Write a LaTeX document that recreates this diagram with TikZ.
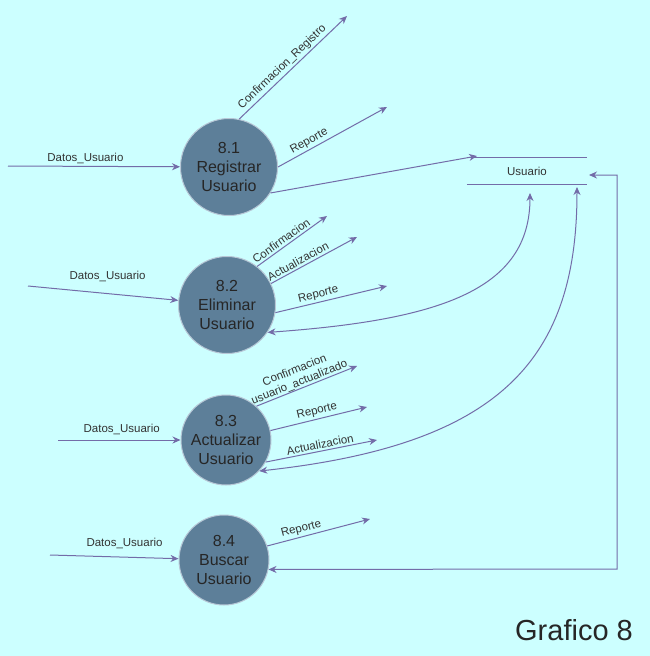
\documentclass[tikz,border=0pt]{standalone}
\usepackage{fontspec}
\setmainfont{Liberation Sans}
\usetikzlibrary{arrows.meta}

\definecolor{bgcol}{HTML}{CCFFFF}
\definecolor{proccol}{HTML}{5D7F99}
\definecolor{edgecol}{HTML}{B7C7D6}
\definecolor{flowcol}{HTML}{736CA8}
\definecolor{txtcol}{HTML}{333333}

\begin{document}
\begin{tikzpicture}[x=1pt,y=-1pt]
	% size of each process
	\def\sz{97pt}
	\def\szsmall{90pt}
	% style definition
	\tikzstyle{proc} = [circle, draw=edgecol, line width=1pt, fill=proccol, minimum size=\sz, inner sep=0pt, align=center, text=black!85, font=\fontsize{16}{19}\selectfont];
	\tikzstyle{flow} = [draw=flowcol, line width=1pt, -{Stealth[length=8pt,width=7pt]}];
	\tikzstyle{lbl} = [text=txtcol, inner sep=2pt, font=\fontsize{11.5}{12}\selectfont];
	\tikzstyle{storeline} = [draw=flowcol, line width=1pt];
	% background
	\fill[bgcol] (0,0) rectangle (650,656);
	\useasboundingbox (0,0) rectangle (650,656);

	% processes
	\node[proc] (p1) at (229,167) {8.1\\Registrar\\Usuario};
	\node[proc] (p2) at (227,305) {8.2\\Eliminar\\Usuario};
	\node[proc, minimum size=\szsmall] (p3) at (226,440) {8.3\\Actualizar\\Usuario};
	\node[proc, minimum size=\szsmall] (p4) at (224,560) {8.4\\Buscar\\Usuario};

	% data store
	\node[lbl, minimum width=120pt, minimum height=26pt] (store) at (527,171) {Usuario};
	\draw[storeline] (store.north west) -- (store.north east);
	\draw[storeline] (store.south west) -- (store.south east);

	% free ends
	\coordinate (in1) at (8,166);
	\coordinate (in2) at (28,286);
	\coordinate (in3) at (58,440);
	\coordinate (in4) at (50,555);
	\coordinate (confReg) at (347,16);
	\coordinate (rep1) at (387,107);
	\coordinate (toStore) at (477,156);
	\coordinate (conf2) at (327,216);
	\coordinate (act2) at (357,237);
	\coordinate (rep2) at (387,286);
	\coordinate (conf3) at (357,366);
	\coordinate (rep3) at (367,407);
	\coordinate (act3) at (377,440);
	\coordinate (rep4) at (370,519);
	\coordinate (st2) at (530,193);
	\coordinate (st3) at (577,187);
	\coordinate (st4) at (589,175);
	\coordinate (corner) at (617,569);

	% 8.1
	\draw[flow] (in1) -- node[lbl, above, pos=0.45] {Datos\_Usuario} (p1);
	\draw[flow] (p1.78) -- node[lbl, above, sloped, pos=0.45] {Confirmacion\_Registro} (confReg);
	\draw[flow] (p1.east) -- node[lbl, above, sloped, pos=0.32] {Reporte} (rep1);
	\draw[flow] (p1.-32) -- (toStore);

	% 8.2
	\draw[flow] (in2) -- node[lbl, above=9pt, pos=0.53] {Datos\_Usuario} (p2);
	\draw[flow] (p2.52) -- node[lbl, above, sloped, pos=0.4] {Confirmacion} (conf2);
	\draw[flow] (p2.26) -- node[lbl, above, sloped, pos=0.35] {Actualizacion} (act2);
	\draw[flow] (p2.-9) -- node[lbl, above, sloped, pos=0.4] {Reporte} (rep2);
	\draw[flow, {Stealth[length=8pt,width=7pt]}-{Stealth[length=8pt,width=7pt]}] (p2.-34) .. controls (440,320) and (530,290) .. (st2);

	% 8.3
	\draw[flow] (in3) -- node[lbl, above=3pt, pos=0.52] {Datos\_Usuario} (p3);
	\draw[flow] (p3.48) -- node[lbl, above, sloped, pos=0.45, align=center, inner sep=0pt, font=\fontsize{11.5}{13}\selectfont] {Confirmacion\\usuario\_actualizado} (conf3);
	\draw[flow] (p3.12) -- node[lbl, above, sloped, pos=0.5] {Reporte} (rep3);
	\draw[flow] (p3.-29) -- node[lbl, above, sloped, pos=0.5] {Actualizacion} (act3);
	\draw[flow, {Stealth[length=8pt,width=7pt]}-{Stealth[length=8pt,width=7pt]}] (p3.-43) .. controls (500,445) and (577,360) .. (st3);

	% 8.4
	\draw[flow] (in4) -- node[lbl, above=6pt, pos=0.58] {Datos\_Usuario} (p4);
	\draw[flow] (p4.18) -- node[lbl, above, sloped, pos=0.35] {Reporte} (rep4);
	\draw[flow, {Stealth[length=8pt,width=7pt]}-{Stealth[length=8pt,width=7pt]}] (p4.-12) -- (corner) |- (st4);

	\node[font=\fontsize{29}{32}\selectfont, text=black!85] (titulo) at (574,630) {Grafico 8};
\end{tikzpicture}
\end{document}
